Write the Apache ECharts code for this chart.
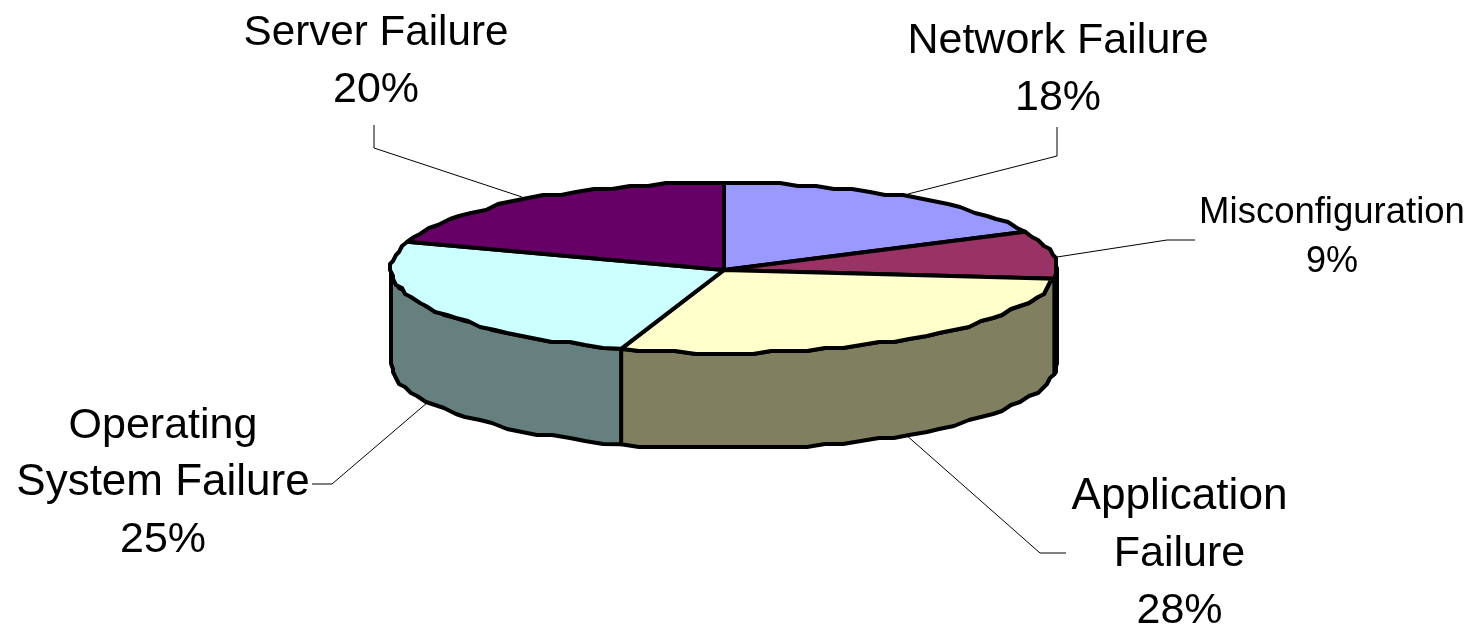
<!DOCTYPE html>
<html><head><meta charset="utf-8">
<style>html,body{margin:0;padding:0;background:#fff}#c{width:1473px;height:629px}</style>
<script src="https://cdn.jsdelivr.net/npm/echarts@6/dist/echarts.min.js"></script>
</head><body><div id="c"></div>
<script>
const categories = ['Network Failure','Misconfiguration','Application Failure','Operating System Failure','Server Failure'];
const values = [18, 9, 28, 25, 20];
const topColors = ['#9999FF','#993366','#FFFFCC','#CCFFFF','#660066'];
const sideColors = ['#5C5C99','#5C1F3D','#808060','#668080','#3D003D'];
const labelLines = [['Network Failure','18%'],['Misconfiguration','9%'],['Application','Failure','28%'],['Operating','System Failure','25%'],['Server Failure','20%']];

const cx=724, cy=268, rx=333, ry=85, depth=95.5, apexY=270;
const total = values.reduce((a,b)=>a+b,0);
const frac = []; { let s=0; values.forEach(v=>{frac.push([s/total,(s+v)/total]); s+=v;}); }
const snap=v=>Math.round(v/3)*3;
const pt = (t,dy=0)=>{const a=t*2*Math.PI; return [cx+rx*Math.sin(a), cy-ry*Math.cos(a)+dy];};
const arc = (a,b,dy=0)=>{
  const n=Math.max(2,Math.ceil((b-a)*110)),r=[];
  for(let i=0;i<=n;i++){
    const p=pt(a+(b-a)*i/n,dy);
    r.push(i===0||i===n?p:[snap(p[0]),snap(p[1])]);
  }
  return r;
};
const stroke={stroke:'#000',lineWidth:4,lineJoin:'round'};

function sideOf(i){
  const [a,b]=frac[i];
  const s=Math.max(a,.25), e=Math.min(b,.75);
  if(e<=s) return null;
  const top=arc(s,e), bot=arc(s,e,depth).reverse();
  return {type:'polygon',z2:1,shape:{points:top.concat(bot)},style:{fill:sideColors[i],...stroke}};
}
function topOf(i){
  const [a,b]=frac[i];
  return {type:'polygon',z2:2,shape:{points:[[cx,apexY]].concat(arc(a,b))},style:{fill:topColors[i],...stroke}};
}
const leaders=[
 [[908,194],[1057,156],[1057,127]],
 [[1057,257],[1167,240],[1195,240]],
 [[905,434],[1040,553],[1066,553]],
 [[428,402],[332,484],[312,484]],
 [[522,197],[374,148],[374,125]]
];
const labelPos=[[1058,41],[1332,213],[1179.5,497],[163,426],[376,33]];
const labelSizes=[[43,43],[36.5,36],[44.2,43,43],[43,44,43],[42.2,43]];
const labelGap=[57.5,49.5,57,57,57];

const option={
 animation:false,
 series:[{
  type:'custom',coordinateSystem:'none',silent:true,
  data:values.map((v,i)=>[i,v]),
  renderItem(p,api){
    const i=api.value(0);
    const ch=[];
    const sd=sideOf(i); if(sd) ch.push(sd);
    ch.push(topOf(i));
    ch.push({type:'polyline',z2:3,shape:{points:leaders[i]},style:{stroke:'#000',lineWidth:1,fill:null}});
    labelLines[i].forEach((t,k)=>ch.push({type:'text',z2:4,style:{text:t,x:labelPos[i][0],y:labelPos[i][1]+k*labelGap[i],
      align:'center',verticalAlign:'middle',fill:'#000',font:labelSizes[i][k]+'px "Liberation Sans", Arial, sans-serif'}}));
    return {type:'group',children:ch};
  }
 }]
};
const chart=echarts.init(document.getElementById('c'),null,{renderer:'canvas'});
chart.setOption(option);
</script></body></html>
